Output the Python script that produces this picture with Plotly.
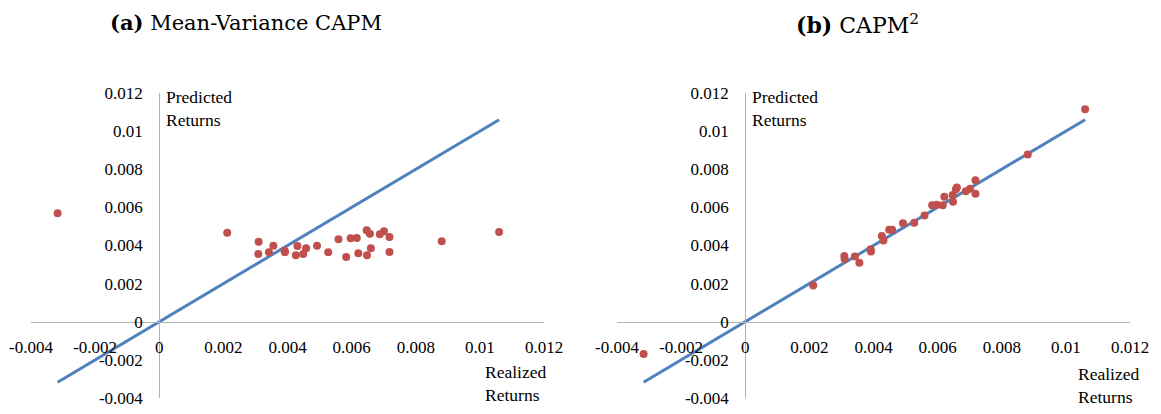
import plotly.graph_objects as go

# ---- data ----
realized = [-0.00317, 0.00212, 0.00309, 0.00310, 0.00342, 0.00356, 0.00391, 0.00392,
            0.00426, 0.00431, 0.00449, 0.00458, 0.00492, 0.00527, 0.00559, 0.00583,
            0.00597, 0.00616, 0.00621, 0.00647, 0.00648, 0.00657, 0.00660, 0.00688,
            0.00701, 0.00718, 0.00718, 0.00881, 0.01060]
predicted_mv = [0.00569, 0.00467, 0.00356, 0.00420, 0.00365, 0.00399, 0.00373, 0.00365,
                0.00349, 0.00398, 0.00356, 0.00386, 0.00399, 0.00365, 0.00433, 0.00340,
                0.00438, 0.00440, 0.00359, 0.00480, 0.00349, 0.00462, 0.00386, 0.00459,
                0.00475, 0.00445, 0.00366, 0.00422, 0.00471]
predicted_capm2 = [-0.00169, 0.00190, 0.00345, 0.00329, 0.00342, 0.00310, 0.00380, 0.00368,
                   0.00450, 0.00426, 0.00482, 0.00482, 0.00517, 0.00520, 0.00557, 0.00611,
                   0.00614, 0.00611, 0.00656, 0.00665, 0.00629, 0.00695, 0.00704, 0.00685,
                   0.00698, 0.00742, 0.00672, 0.00877, 0.01115]
tick_vals = [-0.004, -0.002, 0, 0.002, 0.004, 0.006, 0.008, 0.01, 0.012]
tick_text = ["-0.004", "-0.002", "0", "0.002", "0.004", "0.006", "0.008", "0.01", "0.012"]
titles = ["<b>(a)</b> Mean-Variance CAPM", "<b>(b)</b> CAPM<sup>2</sup>"]
x_label = "Realized<br>Returns"
y_label = "Predicted<br>Returns"

RED = "#c0504d"
BLUE = "#4f81bd"
AXIS = "#b3b3b3"
SERIF = "Liberation Serif"
TICKFONT = dict(family=SERIF, size=17, color="#000")

# page offset from default body margin
OFF = 8
W, H = 1161 - OFF, 414 - OFF
# plot area in page pixels
PL, PR, PT, PB = 31, 1130, 93, 398
ML, MT = PL - OFF, PT - OFF
MR, MB = W - (PR - OFF), H - (PB - OFF)
PW = PR - PL
PH = PB - PT

def px(xp):
    return (xp - PL) / PW

def py(yp):
    return (PB - yp) / PH

fig = go.Figure()
line_x = [min(realized), max(realized)]
for i, pred in enumerate([predicted_mv, predicted_capm2]):
    xa = "x" if i == 0 else "x2"
    ya = "y" if i == 0 else "y2"
    fig.add_trace(go.Scatter(x=line_x, y=line_x, mode="lines",
                             line=dict(color=BLUE, width=3),
                             xaxis=xa, yaxis=ya, showlegend=False, hoverinfo="skip"))
    fig.add_trace(go.Scatter(x=realized, y=pred, mode="markers",
                             marker=dict(color=RED, size=8),
                             xaxis=xa, yaxis=ya, showlegend=False))

dom_l = [0, 513 / PW]
dom_r = [1 - 513 / PW, 1]
common_x = dict(range=[-0.004, 0.012], tickvals=tick_vals, ticktext=tick_text,
                showgrid=False, zeroline=False, showline=True, linecolor=AXIS, linewidth=1,
                ticks="outside", ticklen=10, tickcolor="rgba(0,0,0,0)",
                tickfont=TICKFONT, anchor="free", position=0.25, automargin=False)
common_y = dict(range=[-0.004, 0.012], tickvals=tick_vals, ticktext=tick_text,
                showgrid=False, zeroline=False, showline=True, linecolor=AXIS, linewidth=1,
                ticks="outside", ticklen=13, tickcolor="rgba(0,0,0,0)",
                tickfont=TICKFONT, anchor="free", domain=[0, 1], automargin=False)

fig.update_layout(
    width=W, height=H,
    margin=dict(l=ML, r=MR, t=MT, b=MB, autoexpand=False),
    plot_bgcolor="white", paper_bgcolor="white",
    xaxis=dict(common_x, domain=dom_l),
    xaxis2=dict(common_x, domain=dom_r),
    yaxis=dict(common_y, position=dom_l[0] + 0.25 * (dom_l[1] - dom_l[0])),
    yaxis2=dict(common_y, position=dom_r[0] + 0.25 * (dom_r[1] - dom_r[0])),
)

TITLEFONT = dict(family="DejaVu Serif", size=21, color="#000")
TITLEFONT_B = dict(family="DejaVu Serif", size=22, color="#000")
LABELFONT = dict(family=SERIF, size=17.5, color="#000")
ann = [
    dict(text=titles[0], x=px(246), y=py(OFF), yanchor="top", font=TITLEFONT),
    dict(text=titles[1], x=px(857), y=py(OFF), yanchor="top", font=TITLEFONT_B),
    dict(text=y_label, x=px(164), y=py(85), xanchor="left", yanchor="top", align="left", font=LABELFONT),
    dict(text=y_label, x=px(750), y=py(85), xanchor="left", yanchor="top", align="left", font=LABELFONT),
    dict(text=x_label, x=px(483), y=py(360), xanchor="left", yanchor="top", align="left", font=LABELFONT),
    dict(text=x_label, x=px(1076), y=py(362), xanchor="left", yanchor="top", align="left", font=LABELFONT),
]
for a in ann:
    a.update(xref="paper", yref="paper", showarrow=False)
    a.setdefault("xanchor", "center")
    a.setdefault("yanchor", "middle")
fig.update_layout(annotations=ann)

fig.write_html("out.html")
